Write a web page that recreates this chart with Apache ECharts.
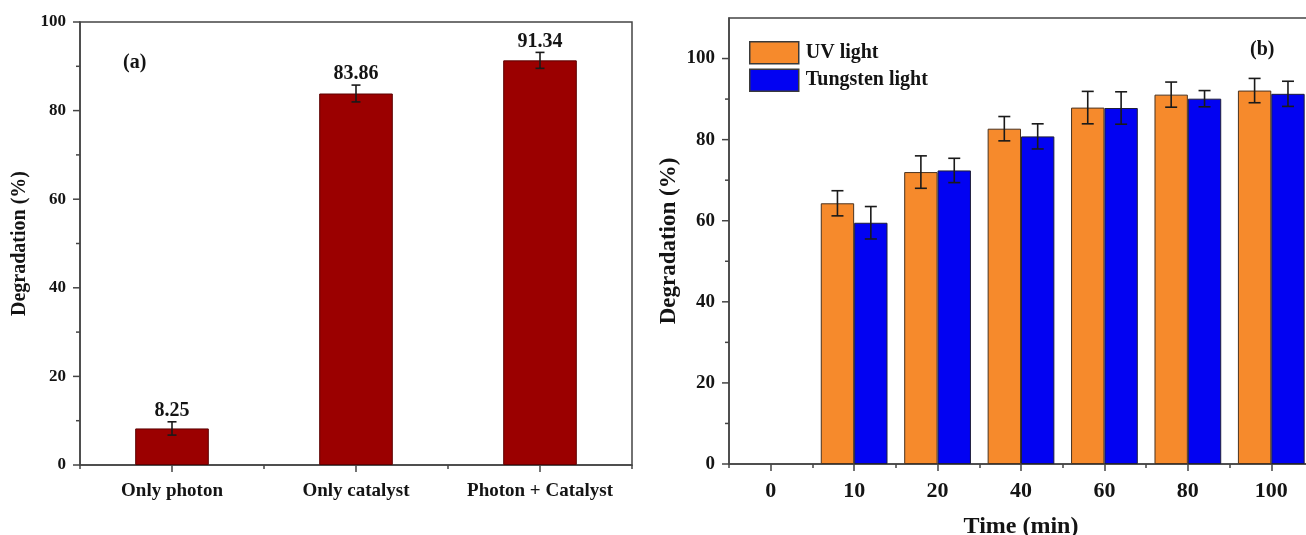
<!DOCTYPE html>
<html>
<head>
<meta charset="utf-8">
<script src="https://cdn.jsdelivr.net/npm/echarts@6/dist/echarts.min.js"></script>
<style>
  html, body { margin: 0; padding: 0; background: #fff; }
  #chart { width: 1306px; height: 535px; }
</style>
</head>
<body>
<div id="chart"></div>
<script>
// Panel (a): degradation for the three conditions
const catsA = ['Only photon', 'Only catalyst', 'Photon + Catalyst'];
const degA = [8.25, 83.86, 91.34];
const errA = [1.5, 1.9, 1.8];
const yTicksA = [0, 20, 40, 60, 80, 100];
const yMinorA = [10, 30, 50, 70, 90];

// Panel (b): degradation over time under two light sources
const timesB = ['0', '10', '20', '40', '60', '80', '100'];
const uvB = ['-', 64.3, 72.0, 82.7, 87.9, 91.1, 92.1];
const uvErrB = [0, 3.1, 4.0, 3.0, 4.0, 3.1, 3.0];
const tungB = ['-', 59.5, 72.4, 80.8, 87.8, 90.1, 91.3];
const tungErrB = [0, 4.0, 3.0, 3.1, 4.0, 2.0, 3.1];
const yTicksB = [0, 20, 40, 60, 80, 100];
const yMinorB = [10, 30, 50, 70, 90];

const SERIF = '"Liberation Serif", "Times New Roman", serif';
const AXIS_COLOR = '#444';
const TEXT_COLOR = '#141414';

function toErrData(vals, errs) {
  return vals.map((v, i) => [i, v, errs[i]]).filter(d => typeof d[1] === 'number');
}

// Error bar (and optional value label) drawn at a fraction of the band width from the category centre
function errorBar(offsetFrac, capHalf, labelFont) {
  return function (params, api) {
    const i = api.value(0), v = api.value(1), e = api.value(2);
    const top = api.coord([i, v + e]);
    const bot = api.coord([i, v - e]);
    const band = api.size([1, 0])[0];
    const x = top[0] + offsetFrac * band;
    const lineStyle = { stroke: '#1a1a1a', lineWidth: 1.6 };
    const children = [
      { type: 'line', shape: { x1: x, y1: top[1], x2: x, y2: bot[1] }, style: lineStyle },
      { type: 'line', shape: { x1: x - capHalf, y1: top[1], x2: x + capHalf, y2: top[1] }, style: lineStyle },
      { type: 'line', shape: { x1: x - capHalf, y1: bot[1], x2: x + capHalf, y2: bot[1] }, style: lineStyle }
    ];
    if (labelFont) {
      children.push({
        type: 'text',
        style: {
          text: v.toFixed(2), x: x, y: top[1] - 1,
          align: 'center', verticalAlign: 'bottom',
          textAlign: 'center', textVerticalAlign: 'bottom',
          font: labelFont, fill: TEXT_COLOR
        }
      });
    }
    return { type: 'group', children: children };
  };
}

// Outward tick on the left edge of the plot, with its value label when a font is given
function yTick(len, labelFont) {
  return function (params, api) {
    const v = api.value(1);
    const y = api.coord([0, v])[1];
    const x0 = params.coordSys.x;
    const children = [{
      type: 'line',
      shape: { x1: x0 - len, y1: y, x2: x0, y2: y },
      style: { stroke: AXIS_COLOR, lineWidth: 1.5 }
    }];
    if (labelFont) {
      children.push({
        type: 'text',
        style: {
          text: String(v), x: x0 - 14, y: y,
          align: 'right', verticalAlign: 'middle',
          textAlign: 'right', textVerticalAlign: 'middle',
          font: labelFont, fill: TEXT_COLOR
        }
      });
    }
    return { type: 'group', children: children };
  };
}
function yTickSeries(axisIndex, values, len, labelFont) {
  return {
    type: 'custom', xAxisIndex: axisIndex, yAxisIndex: axisIndex, clip: false, silent: true, z: 10,
    renderItem: yTick(len, labelFont),
    data: values.map(v => [0, v])
  };
}

const gridA = { left: 80, top: 22, right: 674, bottom: 70 };
const gridB = { left: 729, top: 18, width: 584, bottom: 71 };

function frame(g) {
  return Object.assign({ show: true, borderColor: AXIS_COLOR, borderWidth: 1.5, backgroundColor: 'transparent',
    outerBoundsMode: 'none', containLabel: false }, g);
}
function plain(g) { return Object.assign({ show: false, outerBoundsMode: 'none', containLabel: false }, g); }

const axisLine = { show: true, lineStyle: { color: AXIS_COLOR, width: 1.5 } };
const tickStyle = { color: AXIS_COLOR, width: 1.5 };

// Tick-only category axes: major at category centres, minor at band edges
function tickX(gridIndex, data, major) {
  return {
    type: 'category', gridIndex: gridIndex, data: data,
    axisLine: { show: false },
    axisTick: { show: true, interval: 0, alignWithLabel: major, length: major ? 7 : 4, lineStyle: tickStyle },
    axisLabel: { show: false },
    splitLine: { show: false }
  };
}
function hiddenY(gridIndex) {
  return { type: 'value', gridIndex: gridIndex, min: 0, max: 100, show: false };
}

const option = {
  animation: false,
  backgroundColor: '#fff',
  grid: [
    frame(gridA),          // 0: panel (a) data
    plain(gridA),          // 1: panel (a) major x ticks
    plain(gridA),          // 2: panel (a) minor x ticks
    frame(gridB),          // 3: panel (b) data
    plain(gridB),          // 4: panel (b) major x ticks
    plain(gridB)           // 5: panel (b) minor x ticks
  ],
  legend: {
    orient: 'vertical',
    left: 749, top: 41, padding: 0,
    itemWidth: 49, itemHeight: 22, itemGap: 4,
    icon: 'rect',
    selectedMode: false,
    itemStyle: { borderColor: '#3a3a3a', borderWidth: 1.5 },
    textStyle: { fontFamily: SERIF, fontWeight: 'bold', fontSize: 20, color: TEXT_COLOR, padding: [0, 0, 0, 2] },
    data: ['UV light', 'Tungsten light']
  },
  xAxis: [
    {
      type: 'category', gridIndex: 0, data: catsA,
      axisLine: axisLine,
      axisTick: { show: false },
      axisLabel: { interval: 0, margin: 17, fontFamily: SERIF, fontWeight: 'bold', fontSize: 19, color: TEXT_COLOR }
    },
    tickX(1, catsA, true),
    tickX(2, catsA, false),
    {
      type: 'category', gridIndex: 3, data: timesB,
      name: 'Time (min)', nameLocation: 'middle', nameGap: 51,
      nameTextStyle: { fontFamily: SERIF, fontWeight: 'bold', fontSize: 24, color: TEXT_COLOR },
      axisLine: axisLine,
      axisTick: { show: false },
      axisLabel: { interval: 0, margin: 16, fontFamily: SERIF, fontWeight: 'bold', fontSize: 22, color: TEXT_COLOR }
    },
    tickX(4, timesB, true),
    tickX(5, timesB, false)
  ],
  yAxis: [
    {
      type: 'value', gridIndex: 0, min: 0, max: 100, interval: 20,
      name: 'Degradation (%)', nameLocation: 'middle', nameGap: 50,
      nameTextStyle: { fontFamily: SERIF, fontWeight: 'bold', fontSize: 20, color: TEXT_COLOR },
      axisLine: axisLine,
      axisTick: { show: false },
      axisLabel: { show: false },
      splitLine: { show: false }
    },
    hiddenY(1),
    hiddenY(2),
    {
      type: 'value', gridIndex: 3, min: 0, max: 110, interval: 20,
      name: 'Degradation (%)', nameLocation: 'middle', nameGap: 48,
      nameTextStyle: { fontFamily: SERIF, fontWeight: 'bold', fontSize: 23, color: TEXT_COLOR },
      axisLine: axisLine,
      axisTick: { show: false },
      axisLabel: { show: false },
      splitLine: { show: false }
    },
    hiddenY(4),
    hiddenY(5)
  ],
  graphic: [
    { type: 'text', left: 123, top: 53,
      style: { text: '(a)', font: 'bold 20px ' + SERIF, fill: TEXT_COLOR } },
    { type: 'text', left: 1250, top: 40,
      style: { text: '(b)', font: 'bold 20px ' + SERIF, fill: TEXT_COLOR } }
  ],
  series: [
    {
      type: 'bar', xAxisIndex: 0, yAxisIndex: 0, data: degA, barWidth: '40%',
      itemStyle: { color: '#9b0000', borderColor: '#5c0000', borderWidth: 1 }
    },
    {
      type: 'custom', xAxisIndex: 0, yAxisIndex: 0, z: 5,
      renderItem: errorBar(0, 4.5, 'bold 20px ' + SERIF),
      data: toErrData(degA, errA)
    },
    yTickSeries(0, yTicksA, 7, 'bold 17px ' + SERIF),
    yTickSeries(0, yMinorA, 4, null),
    {
      name: 'UV light', type: 'bar', xAxisIndex: 3, yAxisIndex: 3, data: uvB,
      barWidth: '40%', barGap: '0%',
      itemStyle: { color: '#f68a2c', borderColor: '#4a3320', borderWidth: 1 }
    },
    {
      name: 'Tungsten light', type: 'bar', xAxisIndex: 3, yAxisIndex: 3, data: tungB,
      barWidth: '40%', barGap: '0%',
      itemStyle: { color: '#0202f2', borderColor: '#1e1e3a', borderWidth: 1 }
    },
    {
      type: 'custom', xAxisIndex: 3, yAxisIndex: 3, z: 5,
      renderItem: errorBar(-0.2, 6, null),
      data: toErrData(uvB, uvErrB)
    },
    {
      type: 'custom', xAxisIndex: 3, yAxisIndex: 3, z: 5,
      renderItem: errorBar(0.2, 6, null),
      data: toErrData(tungB, tungErrB)
    },
    yTickSeries(3, yTicksB, 7, 'bold 19px ' + SERIF),
    yTickSeries(3, yMinorB, 4, null)
  ]
};

const chart = echarts.init(document.getElementById('chart'), null, { renderer: 'canvas' });
chart.setOption(option);
</script>
</body>
</html>
